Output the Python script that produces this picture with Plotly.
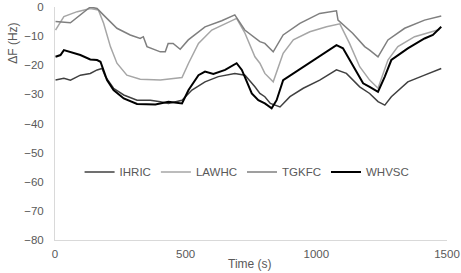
import plotly.graph_objects as go

# Time (s) and ΔF (Hz) values
tgkfc_t = [2, 59, 135, 161, 185, 237, 288, 326, 338, 352, 403, 422, 433, 452, 479, 510, 574, 638, 688, 726, 784, 803, 835, 873, 937, 1013, 1077, 1083, 1139, 1185, 1204, 1236, 1274, 1338, 1414, 1478]
tgkfc_v = [-5.0, -5.4, 0.0, -0.5, -2.7, -7.3, -9.6, -10.8, -10.2, -13.6, -15.4, -15.4, -12.5, -12.5, -14.5, -11.3, -6.8, -4.7, -2.7, -7.9, -11.9, -12.5, -15.4, -9.6, -5.6, -2.2, -1.3, -4.5, -9.0, -13.6, -14.8, -17.1, -11.3, -7.3, -4.5, -3.1]

lawhc_t = [2, 34, 85, 135, 166, 186, 212, 237, 275, 326, 403, 486, 511, 549, 600, 651, 695, 727, 765, 784, 803, 835, 873, 912, 975, 1039, 1090, 1127, 1166, 1204, 1236, 1274, 1312, 1376, 1440, 1471]
lawhc_v = [-7.9, -3.3, -1.6, -0.5, -1.0, -5.6, -13.6, -19.3, -23.4, -24.8, -25.1, -24.2, -19.3, -12.5, -7.9, -5.6, -3.9, -9.0, -17.1, -19.3, -22.8, -25.7, -15.9, -11.3, -8.5, -6.8, -5.8, -12.5, -20.5, -25.1, -27.9, -18.2, -13.6, -10.2, -8.5, -7.7]

whvsc_t = [2, 21, 34, 59, 97, 135, 161, 174, 199, 224, 263, 314, 384, 434, 486, 511, 549, 574, 606, 651, 695, 715, 753, 778, 803, 829, 848, 873, 912, 975, 1039, 1077, 1102, 1141, 1179, 1204, 1236, 1262, 1287, 1350, 1414, 1446, 1478]
whvsc_v = [-17.1, -16.5, -14.8, -15.4, -16.5, -18.0, -18.2, -18.8, -25.1, -28.5, -31.4, -33.3, -33.5, -32.5, -33.1, -28.5, -23.4, -22.2, -23.0, -21.6, -19.3, -21.6, -29.7, -32.0, -33.1, -34.8, -32.0, -25.1, -22.8, -19.3, -15.4, -13.1, -14.2, -20.5, -26.2, -27.4, -29.1, -23.9, -18.2, -14.2, -10.8, -9.6, -6.8]

ihric_t = [2, 34, 59, 97, 135, 161, 180, 193, 224, 263, 314, 365, 403, 434, 486, 524, 574, 625, 688, 727, 765, 784, 803, 824, 861, 899, 950, 1013, 1077, 1115, 1166, 1204, 1236, 1262, 1287, 1350, 1414, 1478]
ihric_v = [-25.1, -24.5, -25.1, -23.4, -22.8, -21.6, -21.1, -23.9, -27.9, -30.2, -32.0, -32.0, -32.5, -33.1, -32.0, -28.5, -25.7, -23.9, -22.8, -23.4, -27.4, -29.7, -30.8, -33.1, -34.3, -30.8, -27.9, -25.1, -21.6, -22.8, -27.4, -29.7, -32.5, -33.7, -30.8, -25.7, -23.4, -21.1]

x_ticks = [0, 500, 1000, 1500]
y_ticks = [0, -10, -20, -30, -40, -50, -60, -70, -80]

FONT = "Liberation Sans, Arial, sans-serif"
TXT = "#595959"

fig = go.Figure()
fig.add_trace(go.Scatter(x=ihric_t, y=ihric_v, mode="lines", name="IHRIC",
                         line=dict(color="#404040", width=1.5)))
fig.add_trace(go.Scatter(x=lawhc_t, y=lawhc_v, mode="lines", name="LAWHC",
                         line=dict(color="#a6a6a6", width=1.5)))
fig.add_trace(go.Scatter(x=tgkfc_t, y=tgkfc_v, mode="lines", name="TGKFC",
                         line=dict(color="#7f7f7f", width=1.5)))
fig.add_trace(go.Scatter(x=whvsc_t, y=whvsc_v, mode="lines", name="WHVSC",
                         line=dict(color="#000000", width=2)))

fig.update_layout(
    width=461, height=273,
    margin=dict(l=55, r=14, t=7, b=33, autoexpand=False),
    paper_bgcolor="white", plot_bgcolor="white",
    font=dict(family=FONT, size=11.5, color=TXT),
    legend=dict(orientation="h", x=0.49, y=0.292, xanchor="center", yanchor="middle",
                font=dict(size=11.5, color=TXT), itemwidth=30,
                bgcolor="rgba(0,0,0,0)", tracegroupgap=0),
    xaxis=dict(range=[0, 1500], tickvals=x_ticks, showgrid=False, zeroline=False,
               showline=True, linecolor="#d9d9d9", linewidth=1, ticks="",
               automargin=False, ticklabelstandoff=3),
    yaxis=dict(range=[-80, 0], tickvals=y_ticks, showgrid=False, zeroline=False,
               showline=True, linecolor="#d9d9d9", linewidth=1, ticks="",
               automargin=False, ticklabelstandoff=8),
    annotations=[
        dict(text="Time (s)", xref="paper", yref="paper", x=0.498, y=-0.103,
             xanchor="center", yanchor="middle", showarrow=False,
             font=dict(size=12, color=TXT)),
        dict(text="ΔF (Hz)", xref="paper", yref="paper", x=-0.108, y=0.845,
             xanchor="center", yanchor="middle", showarrow=False, textangle=-90,
             font=dict(size=12, color=TXT)),
    ],
)

fig.write_html("out.html", config={"displayModeBar": False},
               post_script="document.body.style.margin='0px';document.body.style.overflow='hidden';")
